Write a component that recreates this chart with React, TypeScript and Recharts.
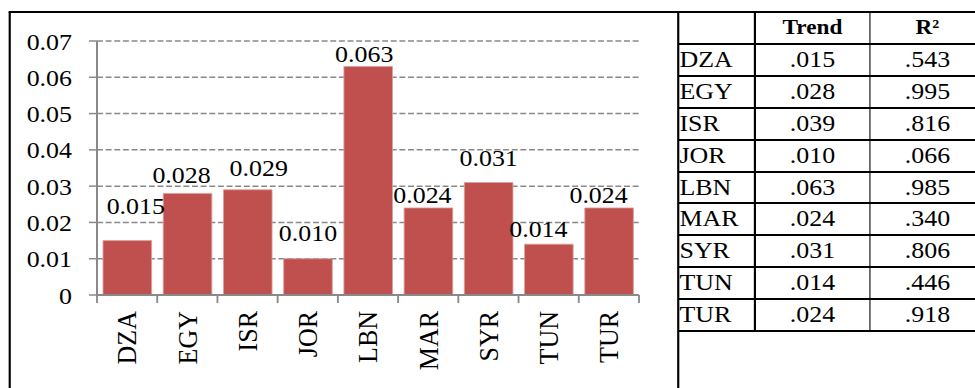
import React from "react";
import { BarChart, Bar, XAxis, YAxis, CartesianGrid, LabelList } from "recharts";

// ---------- data ----------
const categories = ["DZA", "EGY", "ISR", "JOR", "LBN", "MAR", "SYR", "TUN", "TUR"];
const trendValues = [0.015, 0.028, 0.029, 0.01, 0.063, 0.024, 0.031, 0.014, 0.024];
const yTicks = [0, 0.01, 0.02, 0.03, 0.04, 0.05, 0.06, 0.07];

const tableHeaders = ["", "Trend", "R²"];
const tableCountries = ["DZA", "EGY", "ISR", "JOR", "LBN", "MAR", "SYR", "TUN", "TUR"];
const tableTrend = [".015", ".028", ".039", ".010", ".063", ".024", ".031", ".014", ".024"];
const tableR2 = [".543", ".995", ".816", ".066", ".985", ".340", ".806", ".446", ".918"];

// ---------- styling ----------
const S = 1.08; // horizontal stretch of the reference
const FONT = "'Liberation Serif', 'Times New Roman', serif";
const FS = 24;
const XFS = 26;
const AXIS = "#898989";
const BAR = "#C0504D";
// manual label nudges seen in the reference (px, final space)
const labelDx = [8.5, -6, 11, 0, -4, -6, 0, -10.5, -10.5];
const labelGap = [27, 10, 14, 18, 4, 5, 17, 7, 5];

// layout in final pixels, converted to pre-stretch units
const f = (v: number) => v / S;
const CHART_W = f(678);
const CHART_H = 388;
const PLOT_L = 97;
const PLOT_R = 639;
const MARGIN = { top: 41, right: f(678 - PLOT_R), bottom: 0, left: 0 };
const Y_W = f(PLOT_L);
const X_H = 93;
const PLOT_W = f(PLOT_R - PLOT_L);

const data = categories.map((c, i) => ({ country: c, trend: trendValues[i] }));

const XTick = (props: any) => {
  const { x, y, payload, index } = props;
  const band = PLOT_W / categories.length;
  const last = index === categories.length - 1;
  const ty = y + 16;
  return (
    <g>
      <line x1={x - band / 2} x2={x - band / 2} y1={y} y2={y + 8} stroke={AXIS} strokeWidth={1.7} />
      {last && (
        <line x1={x + band / 2} x2={x + band / 2} y1={y} y2={y + 8} stroke={AXIS} strokeWidth={1.7} />
      )}
      <text
        x={x}
        y={ty}
        transform={`rotate(-90 ${x} ${ty})`}
        textAnchor="end"
        dominantBaseline="central"
        fontFamily={FONT}
        fontSize={XFS}
        fill="#000"
      >
        {payload.value}
      </text>
    </g>
  );
};

const BarLabel = (props: any) => {
  const { x, y, width, index, value } = props;
  return (
    <text
      x={x + width / 2 + f(labelDx[index])}
      y={y - labelGap[index]}
      textAnchor="middle"
      fontFamily={FONT}
      fontSize={FS}
      fill="#000"
    >
      {Number(value).toFixed(3)}
    </text>
  );
};

const W = f(975);
const colX = [f(678), f(755), f(870), f(985)];
const TOP = 12;
const ROW_H = 31.9;

export default function App() {
  const rows = [tableHeaders].concat(
    tableCountries.map((c, i) => [c, tableTrend[i], tableR2[i]])
  );
  return (
    <div
      style={{
        position: "absolute",
        left: 0,
        top: 0,
        width: 975,
        height: 388,
        overflow: "hidden",
        background: "#fff",
      }}
    >
      <div
        style={{
          position: "absolute",
          left: 0,
          top: 0,
          width: W,
          height: 388,
          transform: `scaleX(${S})`,
          transformOrigin: "0 0",
          fontFamily: FONT,
        }}
      >
        {/* chart frame */}
        <div style={{ position: "absolute", left: f(8.5), top: TOP, width: f(2), height: 388 - TOP, background: "#000" }} />
        <div style={{ position: "absolute", left: f(8.5), top: TOP - 1, width: W, height: 2, background: "#000" }} />

        <div style={{ position: "absolute", left: 0, top: 0 }}>
          <BarChart width={CHART_W} height={CHART_H} data={data} margin={MARGIN}>
            <CartesianGrid
              horizontal
              vertical={false}
              stroke={AXIS}
              strokeWidth={1.5}
              strokeDasharray="5.5 2.5"
            />
            <XAxis
              dataKey="country"
              height={X_H}
              interval={0}
              tickLine={false}
              tickSize={0}
              tickMargin={0}
              axisLine={{ stroke: AXIS, strokeWidth: 2 }}
              tick={<XTick />}
            />
            <YAxis
              width={Y_W}
              domain={[0, 0.07]}
              ticks={yTicks}
              interval={0}
              tickSize={f(8)}
              tickMargin={f(17)}
              tickFormatter={(v: number) => (v === 0 ? "0" : v.toFixed(2))}
              axisLine={{ stroke: AXIS, strokeWidth: f(2) }}
              tickLine={{ stroke: AXIS, strokeWidth: 1.5 }}
              tick={{ fill: "#000", fontSize: FS, fontFamily: FONT }}
            />
            <Bar
              dataKey="trend"
              fill={BAR}
              stroke="#dba09e"
              strokeWidth={0.8}
              barCategoryGap="20%"
              isAnimationActive={false}
            >
              <LabelList dataKey="trend" content={<BarLabel />} />
            </Bar>
          </BarChart>
        </div>

        {/* table lines */}
        {rows.map((_, i) => (
          <div
            key={"h" + i}
            style={{
              position: "absolute",
              left: colX[0],
              top: TOP + (i + 1) * ROW_H - 1,
              width: W - colX[0],
              height: 2,
              background: "#000",
            }}
          />
        ))}
        <div style={{ position: "absolute", left: colX[0] - f(1), top: TOP, width: f(2), height: 388 - TOP, background: "#000" }} />
        {[colX[1], colX[2]].map((x, i) => (
          <div
            key={"v" + i}
            style={{ position: "absolute", left: x - f(1), top: TOP, width: f(2), height: rows.length * ROW_H, background: "#000" }}
          />
        ))}

        {/* table text */}
        {rows.map((r, i) =>
          r.map((cell, j) => (
            <div
              key={i + "-" + j}
              style={{
                position: "absolute",
                left: colX[j] + (j === 0 ? f(1.5) : 0),
                top: TOP + i * ROW_H,
                width: colX[j + 1] - colX[j] - (j === 0 ? f(1.5) : 0),
                height: ROW_H,
                lineHeight: ROW_H + "px",
                textAlign: j === 0 ? "left" : "center",
                fontSize: i === 0 ? 21.5 : FS,
                fontWeight: i === 0 ? "bold" : "normal",
                color: "#000",
                whiteSpace: "nowrap",
              }}
            >
              {cell}
            </div>
          ))
        )}
      </div>
    </div>
  );
}
